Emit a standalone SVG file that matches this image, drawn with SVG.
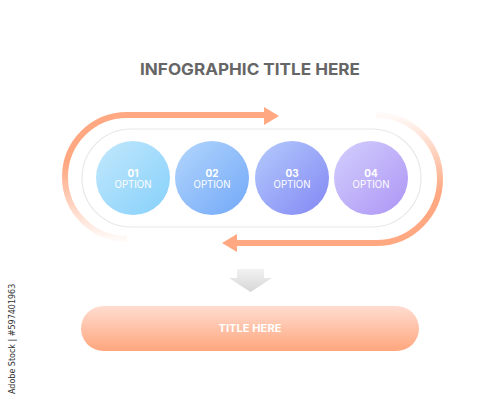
<svg xmlns="http://www.w3.org/2000/svg" width="500" height="400" viewBox="0 0 500 400">
<style>
.title{font-family:Inter,"Liberation Sans",sans-serif;font-weight:700;fill:#666;}
.num{font-family:Inter,"Liberation Sans",sans-serif;font-weight:700;fill:#fff;font-size:10px;}
.opt{font-family:Inter,"Liberation Sans",sans-serif;font-weight:400;fill:#fff;font-size:10px;}
.arc{fill:none;stroke-width:6;}
</style>
<defs>
<linearGradient id="c1" x1="0" y1="0" x2="1" y2="1"><stop offset="0" stop-color="#c2e8fc"/><stop offset="1" stop-color="#86d0fb"/></linearGradient>
<linearGradient id="c2" x1="0" y1="0" x2="1" y2="1"><stop offset="0" stop-color="#b3d6fc"/><stop offset="1" stop-color="#72a8f8"/></linearGradient>
<linearGradient id="c3" x1="0" y1="0" x2="1" y2="1"><stop offset="0" stop-color="#b4cbfc"/><stop offset="1" stop-color="#8387f4"/></linearGradient>
<linearGradient id="c4" x1="0" y1="0" x2="1" y2="1"><stop offset="0" stop-color="#d3d0fd"/><stop offset="1" stop-color="#ad94f5"/></linearGradient>
<linearGradient id="fadeL" gradientUnits="userSpaceOnUse" x1="0" y1="115" x2="0" y2="240"><stop offset="0" stop-color="#ffa882"/><stop offset="0.4" stop-color="#ffa882"/><stop offset="1" stop-color="#ffa882" stop-opacity="0.05"/></linearGradient>
<linearGradient id="fadeR" gradientUnits="userSpaceOnUse" x1="0" y1="243" x2="0" y2="115"><stop offset="0" stop-color="#ffa882"/><stop offset="0.4" stop-color="#ffa882"/><stop offset="1" stop-color="#ffa882" stop-opacity="0.05"/></linearGradient>
<linearGradient id="pill" x1="0" y1="0" x2="0" y2="1"><stop offset="0" stop-color="#ffdcd0"/><stop offset="1" stop-color="#ffa67d"/></linearGradient>
<linearGradient id="gray" x1="0" y1="0" x2="0" y2="1"><stop offset="0" stop-color="#f2f2f2"/><stop offset="1" stop-color="#d6d6d6"/></linearGradient>
</defs>
<rect width="500" height="400" fill="#fff"/>
<text class="title" x="250" y="75" font-size="16" text-anchor="middle" textLength="220" lengthAdjust="spacingAndGlyphs">INFOGRAPHIC TITLE HERE</text>
<g id="frame"><rect x="82" y="129" width="339" height="98" rx="49" fill="#fff" stroke="#e8e8e8" stroke-width="1.2"/></g>
<g id="connectors">
<path class="arc" stroke="url(#fadeL)" d="M127 115 A62 62 0 0 0 127 239"/>
<path class="arc" stroke="#ffa882" d="M126 115 H266"/>
<polygon fill="#ffa882" points="264,107 279,116 264,125"/>
<path class="arc" stroke="url(#fadeR)" d="M376 243 A64 64 0 0 0 376 115"/>
<path class="arc" stroke="#ffa882" d="M377 243 H235"/>
<polygon fill="#ffa882" points="237,234 222,243 237,252"/>
<polygon fill="url(#gray)" points="237,269 264,269 264,278 272,278 250.5,292 229,278 237,278"/>
</g>
<g id="opt1"><circle cx="133" cy="178" r="37" fill="url(#c1)"/><text class="num" x="133" y="177" text-anchor="middle">01</text><text class="opt" x="133" y="188" text-anchor="middle" textLength="37" lengthAdjust="spacingAndGlyphs">OPTION</text></g>
<g id="opt2"><circle cx="212" cy="178" r="37" fill="url(#c2)"/><text class="num" x="212" y="177" text-anchor="middle">02</text><text class="opt" x="212" y="188" text-anchor="middle" textLength="37" lengthAdjust="spacingAndGlyphs">OPTION</text></g>
<g id="opt3"><circle cx="292" cy="178" r="37" fill="url(#c3)"/><text class="num" x="292" y="177" text-anchor="middle">03</text><text class="opt" x="292" y="188" text-anchor="middle" textLength="37" lengthAdjust="spacingAndGlyphs">OPTION</text></g>
<g id="opt4"><circle cx="371" cy="178" r="37" fill="url(#c4)"/><text class="num" x="371" y="177" text-anchor="middle">04</text><text class="opt" x="371" y="188" text-anchor="middle" textLength="37" lengthAdjust="spacingAndGlyphs">OPTION</text></g>
<g id="result"><rect x="81" y="306" width="338" height="45" rx="22.5" fill="url(#pill)"/><text class="num" x="250" y="332" text-anchor="middle" style="font-size:11px" textLength="63" lengthAdjust="spacingAndGlyphs">TITLE HERE</text></g>
<text x="15" y="394" transform="rotate(-90 15 394)" font-family="'DejaVu Sans',sans-serif" font-size="8" fill="#333">Adobe Stock | #597401963</text>
</svg>
